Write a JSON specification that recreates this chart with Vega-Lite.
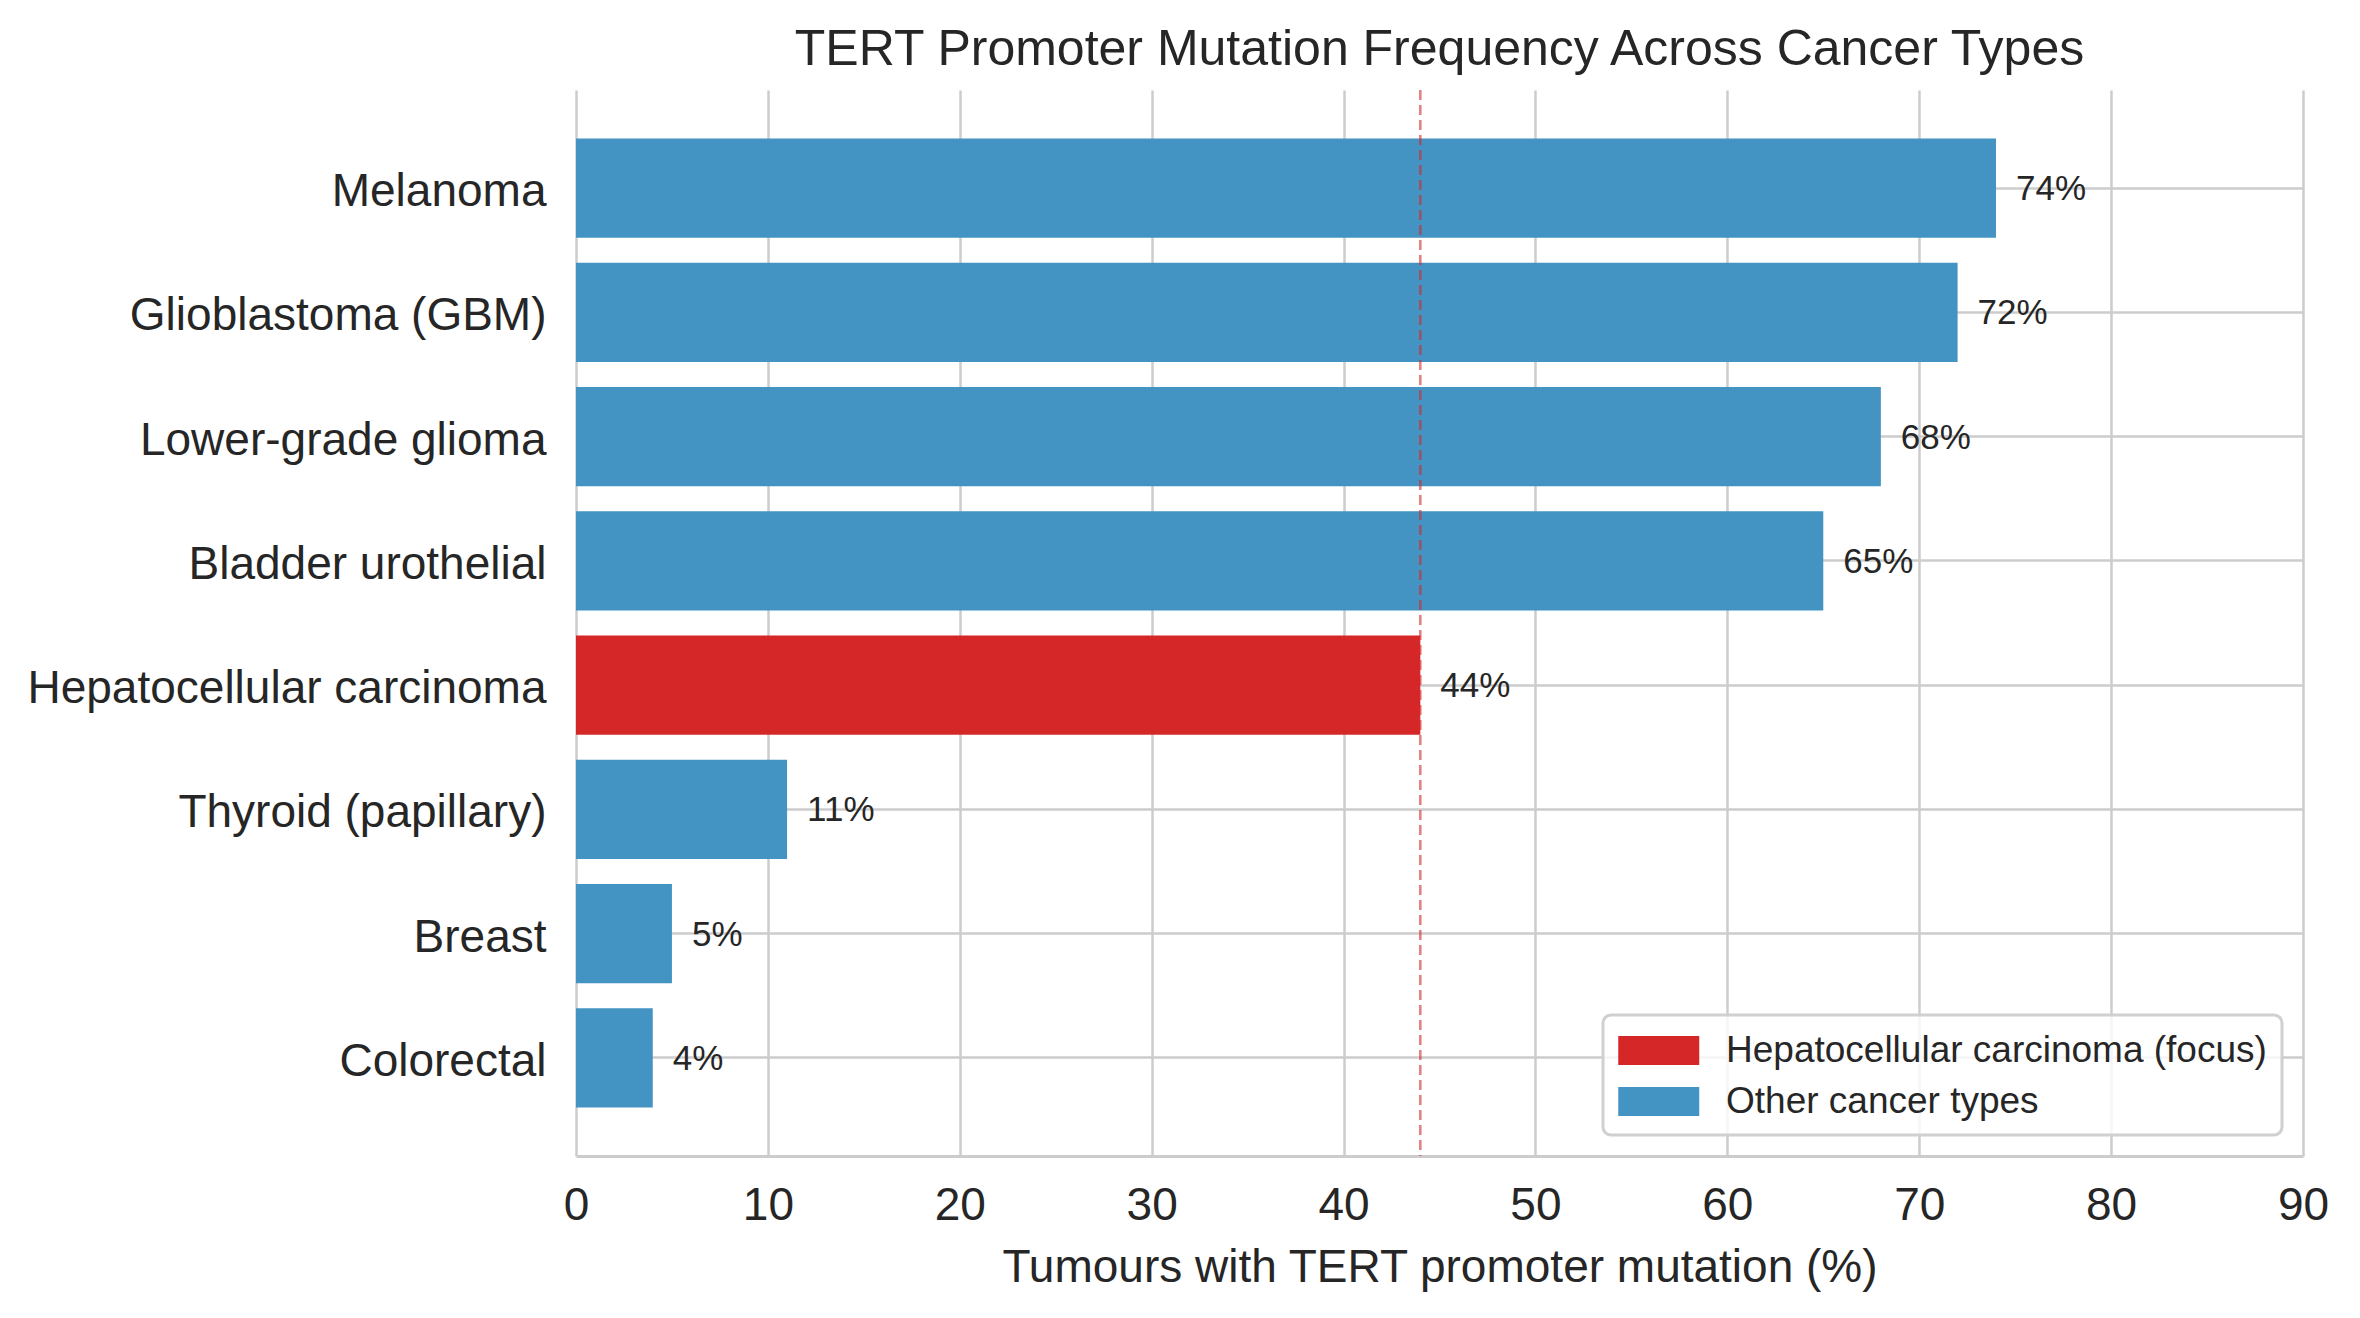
{
  "$schema": "https://vega.github.io/schema/vega-lite/v6.json",
  "width": 1727,
  "height": 1066,
  "autosize": {"type": "none"},
  "padding": {"left": 576, "top": 90, "right": 57, "bottom": 162},
  "background": "white",
  "config": {"view": {"stroke": null}, "font": "Liberation Sans"},
  "title": {"text": "TERT Promoter Mutation Frequency Across Cancer Types", "fontSize": 50, "font": "Liberation Sans", "fontWeight": "normal", "color": "#262626", "anchor": "middle", "offset": 14},
  "layer": [
    {
      "data": {"values": [
        {"cancer": "Melanoma", "pct": 74, "label": "74%", "group": "Other cancer types"},
        {"cancer": "Glioblastoma (GBM)", "pct": 72, "label": "72%", "group": "Other cancer types"},
        {"cancer": "Lower-grade glioma", "pct": 68, "label": "68%", "group": "Other cancer types"},
        {"cancer": "Bladder urothelial", "pct": 65, "label": "65%", "group": "Other cancer types"},
        {"cancer": "Hepatocellular carcinoma", "pct": 44, "label": "44%", "group": "Hepatocellular carcinoma (focus)"},
        {"cancer": "Thyroid (papillary)", "pct": 11, "label": "11%", "group": "Other cancer types"},
        {"cancer": "Breast", "pct": 5, "label": "5%", "group": "Other cancer types"},
        {"cancer": "Colorectal", "pct": 4, "label": "4%", "group": "Other cancer types"}
      ]},
      "encoding": {
        "y": {"field": "cancer", "type": "nominal", "sort": null, "title": null,
          "scale": {"paddingInner": 0.2, "paddingOuter": 0.39},
          "axis": {"ticks": false, "tickSize": 0, "domain": false, "labelPadding": 30, "labelFontSize": 46, "labelOffset": 4, "labelFont": "Liberation Sans", "labelColor": "#262626", "labelLimit": 800, "grid": true, "gridColor": "#cccccc", "gridWidth": 2.5}},
        "x": {"field": "pct", "type": "quantitative",
          "scale": {"domain": [0, 90], "nice": false, "zero": true},
          "axis": {"title": "Tumours with TERT promoter mutation (%)", "values": [0, 10, 20, 30, 40, 50, 60, 70, 80, 90], "ticks": false, "tickSize": 0, "domain": true, "domainColor": "#cccccc", "domainWidth": 3, "labelPadding": 27, "labelFontSize": 46, "labelFont": "Liberation Sans", "labelColor": "#262626", "labelFlush": false, "grid": true, "gridColor": "#cccccc", "gridWidth": 2.5, "titleFontSize": 46, "titleFont": "Liberation Sans", "titleFontWeight": "normal", "titleColor": "#262626", "titlePadding": 17}}
      },
      "layer": [
        {
          "mark": {"type": "bar"},
          "encoding": {
            "color": {"field": "group", "type": "nominal",
              "scale": {"domain": ["Hepatocellular carcinoma (focus)", "Other cancer types"], "range": ["#d62728", "#4393c3"]},
              "legend": {"orient": "none", "legendX": 1027, "legendY": 925, "title": null,
                "symbolType": "M-1,-0.72L3,-0.72L3,0.72L-1,0.72Z", "symbolSize": 1640, "symbolStrokeWidth": 0, "symbolOpacity": 1,
                "labelFontSize": 37, "labelFont": "Liberation Sans", "labelColor": "#262626", "labelOffset": 67, "labelLimit": 900,
                "rowPadding": 12, "padding": 15, "fillColor": "rgba(255,255,255,0.8)", "strokeColor": "#d0d0d0", "cornerRadius": 8,
                "encode": {"legend": {"update": {"strokeWidth": {"value": 3}}}}}}
          }
        },
        {
          "mark": {"type": "text", "align": "left", "baseline": "middle", "dx": 20, "dy": 1, "fontSize": 35, "font": "Liberation Sans", "color": "#262626"},
          "encoding": {"text": {"field": "label"}}
        }
      ]
    },
    {
      "data": {"values": [{"ref": 44}]},
      "mark": {"type": "rule", "strokeDash": [10, 5], "color": "#d62728", "opacity": 0.6, "strokeWidth": 2.5},
      "encoding": {"x": {"field": "ref", "type": "quantitative"}}
    }
  ]
}
